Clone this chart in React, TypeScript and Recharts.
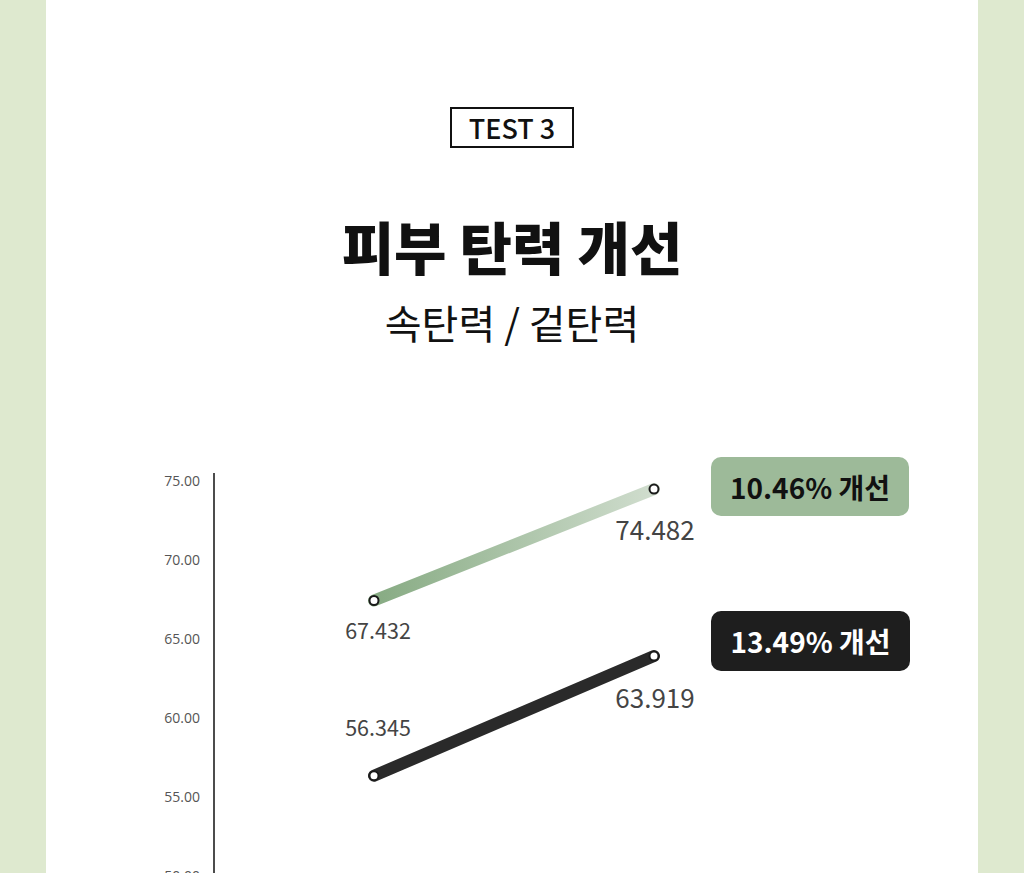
import React from "react"
import { LineChart, Line, XAxis, YAxis, LabelList } from "recharts"

const stages = ["Before", "After"]
const innerValues = [67.432, 74.482]
const outerValues = [56.345, 63.919]
const yTicks = [50, 55, 60, 65, 70, 75]
const badges = ["10.46% 개선", "13.49% 개선"]

const data = stages.map((s, i) => ({ stage: s, inner: innerValues[i], outer: outerValues[i] }))

const FONT = "'Noto Sans CJK KR', 'Noto Sans', sans-serif"

// per-point label offsets (dy) and sizes: left labels smaller, right ones larger
function makeLabel(offsets: number[]) {
  return (props: any) => {
    const { x, y, value, index } = props
    return (
      <text
        x={x + (index === 0 ? 4 : 1)}
        y={y + offsets[index]}
        textAnchor="middle"
        dominantBaseline="central"
        fontSize={index === 0 ? 21.5 : 26}
        fill="#444"
        fontFamily={FONT}
      >
        {value}
      </text>
    )
  }
}

const dot = { r: 4.5, fill: "#fff", stroke: "#1a1a1a", strokeWidth: 2 }

export default function App() {
  return (
    <div style={{ position: "absolute", left: 0, top: 0, width: 1024, height: 873, overflow: "hidden", background: "#dee9cf", fontFamily: FONT }}>
      <div style={{ position: "absolute", left: 46, top: 0, width: 932, height: 873, background: "#fff" }} />

      <div style={{ position: "absolute", left: 450, top: 107, width: 124, height: 41, boxSizing: "border-box", border: "2px solid #111", display: "flex", alignItems: "center", justifyContent: "center", fontSize: 27, fontWeight: 500, color: "#111" }}>
        TEST 3
      </div>
      <div style={{ position: "absolute", left: 0, width: 1024, top: 245, transform: "translateY(-50%)", textAlign: "center", fontSize: 57, fontWeight: 900, color: "#111", lineHeight: 1 }}>
        피부 탄력 개선
      </div>
      <div style={{ position: "absolute", left: 0, width: 1024, top: 322, transform: "translateY(-50%)", textAlign: "center", fontSize: 40, fontWeight: 400, color: "#111", lineHeight: 1 }}>
        속탄력 / 겉탄력
      </div>

      <div style={{ position: "absolute", left: 0, top: 0 }}>
        <LineChart width={1024} height={1000} data={data} margin={{ top: 473, right: 300, bottom: 124, left: 154 }}>
          <defs>
            <linearGradient id="greenGrad" x1="0" y1="0" x2="1" y2="0">
              <stop offset="0%" stopColor="#87ab83" />
              <stop offset="100%" stopColor="#d0ddce" />
            </linearGradient>
          </defs>
          <XAxis dataKey="stage" hide padding={{ left: 160, right: 70 }} />
          <YAxis
            domain={[50, 75.5]}
            ticks={yTicks}
            width={60}
            tickFormatter={(v: number) => v.toFixed(2)}
            tick={{ fontSize: 14, fill: "#555", fontFamily: "'Open Sans', sans-serif" }}
            tickLine={false}
            axisLine={{ stroke: "#111", strokeWidth: 1.5 }}
            tickMargin={8}
          />
          <Line
            dataKey="inner"
            type="linear"
            stroke="url(#greenGrad)"
            strokeWidth={12}
            strokeLinecap="round"
            dot={dot}
            activeDot={false}
            isAnimationActive={false}
          >
            <LabelList dataKey="inner" content={makeLabel([29, 39])} />
          </Line>
          <Line
            dataKey="outer"
            type="linear"
            stroke="#2a2a2a"
            strokeWidth={12}
            strokeLinecap="round"
            dot={dot}
            activeDot={false}
            isAnimationActive={false}
          >
            <LabelList dataKey="outer" content={makeLabel([-49, 40])} />
          </Line>
        </LineChart>
      </div>

      <div style={{ position: "absolute", left: 711, top: 457, width: 198, height: 59, borderRadius: 10, background: "#9dba99", color: "#111", display: "flex", alignItems: "center", justifyContent: "center", fontSize: 28, fontWeight: 700 }}>
        {badges[0]}
      </div>
      <div style={{ position: "absolute", left: 711, top: 611, width: 199, height: 60, borderRadius: 10, background: "#1e1e1e", color: "#fff", display: "flex", alignItems: "center", justifyContent: "center", fontSize: 28, fontWeight: 700 }}>
        {badges[1]}
      </div>
    </div>
  )
}
